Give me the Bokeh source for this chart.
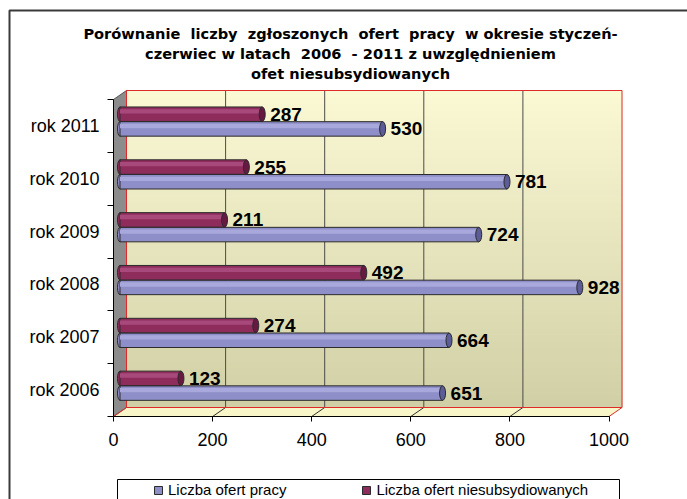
import numpy as np
from bokeh.plotting import figure
from bokeh.models import Range1d, LinearAxis, FixedTicker, Legend, LegendItem, ColumnDataSource
from bokeh.transform import dodge
from bokeh.core.properties import value
from bokeh.embed import file_html
from bokeh.resources import INLINE

# ---------------- data ----------------
categories = ["rok 2006", "rok 2007", "rok 2008", "rok 2009", "rok 2010", "rok 2011"]
liczba_ofert_pracy = [651, 664, 928, 724, 781, 530]
liczba_ofert_niesub = [123, 274, 492, 211, 255, 287]
x_ticks = [0, 200, 400, 600, 800, 1000]
series_labels = ["Liczba ofert pracy", "Liczba ofert niesubsydiowanych"]
title_lines = [
    "Porównanie  liczby  zgłoszonych  ofert  pracy  w okresie styczeń-",
    "czerwiec w latach  2006  - 2011 z uwzględnieniem",
    "ofet niesubsydiowanych",
]
# keep the double spaces visible in SVG (second space as no-break space)
title_render = [t.replace("  ", " \u00a0") for t in title_lines]

# ---------------- layout (canvas pixels) ----------------
W, H = 687, 499
X0, X1 = 113.0, 608.5      # canvas x of value 0 and of the last tick
YB, YT = 416.0, 99.0       # canvas y of the category axis bottom / top
ncat = len(categories)
xmax = x_ticks[-1]
sx = (X1 - X0) / xmax
sy = (YB - YT) / ncat
x_start = -X0 / sx
x_end = (W - X0) / sx
y_end = ncat + YT / sy
y_start = -(H - YB) / sy


def dx(px):
    return px / sx


def dy(px):
    return px / sy


def cx(px):
    return x_start + px / sx


def cy(py):
    return y_end - py / sy


DX, DY = dx(13), dy(9)     # 3-D depth offset of the back wall

p = figure(width=W, height=H, x_range=Range1d(x_start, x_end), y_range=Range1d(y_start, y_end),
           x_axis_type=None, y_axis_type=None, toolbar_location=None, output_backend="svg",
           min_border=0, min_border_left=0, min_border_right=0, min_border_top=0, min_border_bottom=0)
p.outline_line_color = None
p.background_fill_color = "white"
p.border_fill_color = "white"

# outer chart border (left and top visible)
p.line(x=[cx(9), cx(9), cx(W + 10)], y=[cy(H + 10), cy(10), cy(10)], line_color="#3a3a3a", line_width=2)

# title
p.text(x=[cx(350)] * 3, y=[cy(33), cy(53), cy(73)], text=title_render,
       text_font=value("DejaVu Sans"), text_font_style="bold", text_font_size="14.6px",
       text_align="center", text_baseline="middle", text_color="black")

# back wall with vertical gradient
nb = 48
edges = np.linspace(0, ncat, nb + 1)
top_c = np.array([251, 249, 212])
bot_c = np.array([209, 207, 165])
cols = []
for k in range(nb):
    t = (k + 0.5) / nb
    c = bot_c + (top_c - bot_c) * t
    cols.append("#%02x%02x%02x" % tuple(int(round(v)) for v in c))
p.quad(left=DX, right=xmax + DX, bottom=edges[:-1] + DY, top=edges[1:] + DY,
       fill_color=cols, line_color=cols, line_width=1)

# floor
p.patch(x=[0, DX, xmax + DX, xmax], y=[0, DY, DY, 0], fill_color="#f8f5c8", line_color=None)

inner = x_ticks[1:-1]
p.segment(x0=[t + DX for t in inner], y0=DY, x1=[t + DX for t in inner], y1=ncat + DY,
          line_color="#4a4a4a", line_width=1)
p.segment(x0=inner, y0=0, x1=[t + DX for t in inner], y1=DY, line_color="#303030", line_width=1)

# left wall
p.patch(x=[0, DX, DX, 0], y=[0, DY, ncat + DY, ncat], fill_color="#8c8c8c", line_color="#555555", line_width=1)

# red edges of the wall / floor
red = "#e02a2a"
p.line(x=[DX, DX, xmax + DX, xmax + DX, DX], y=[DY, ncat + DY, ncat + DY, DY, DY], line_color=red, line_width=1)
p.segment(x0=[0, xmax], y0=[0, 0], x1=[DX, xmax + DX], y1=[DY, DY], line_color=red, line_width=1)

# ---------------- bars ----------------
yc = np.arange(ncat) + 0.5
src = ColumnDataSource(dict(
    cat=categories, yc=yc, zero=[0] * ncat,
    pracy=liczba_ofert_pracy, niesub=liczba_ofert_niesub,
    pracy_txt=[str(v) for v in liczba_ofert_pracy],
    niesub_txt=[str(v) for v in liczba_ofert_niesub],
))
BX = dx(6.5)
BH_PX = 14.5
BH = dy(BH_PX)
outline = "#2b2b2b"


def cylinder(col, txtcol, yoff, body, hi, cap):
    ycol = dodge("yc", yoff)
    xl = dodge("zero", BX)
    xr = dodge(col, BX)
    p.ellipse(x=xl, y=ycol, width=5, height=BH_PX, width_units="screen", height_units="screen",
              source=src, fill_color=body, line_color=outline, line_width=1)
    r = p.hbar(y=ycol, left=xl, right=xr, height=BH, source=src,
               fill_color=body, line_color=outline, line_width=1)
    p.hbar(y=dodge("yc", yoff + BH * 0.2), left=xl, right=xr, height=BH * 0.3, source=src,
           fill_color=hi, line_color=None)
    p.ellipse(x=xr, y=ycol, width=6, height=BH_PX, width_units="screen", height_units="screen",
              source=src, fill_color=cap, line_color=outline, line_width=1)
    p.text(x=dodge(col, BX + dx(8)), y=ycol, text=txtcol, source=src,
           text_font=value("Liberation Sans"), text_font_style="bold", text_font_size="19px",
           text_align="left", text_baseline="middle", text_color="black")
    return r


r_blue = cylinder("pracy", "pracy_txt", -dy(3), "#8e8ec8", "#a8a8dc", "#5c5c98")
r_purple = cylinder("niesub", "niesub_txt", dy(11.7), "#8e2c5c", "#a8497c", "#661a42")

# ---------------- axes ----------------
xaxis = LinearAxis(fixed_location=0, bounds=(0, xmax),
                   ticker=FixedTicker(ticks=x_ticks, minor_ticks=[]))
xaxis.axis_line_color = "black"
xaxis.major_tick_out = 5
xaxis.major_tick_in = 0
xaxis.major_tick_line_color = "black"
xaxis.minor_tick_line_color = None
xaxis.major_label_text_font = "Liberation Sans"
xaxis.major_label_text_font_size = "18px"
xaxis.major_label_text_color = "black"
xaxis.major_label_standoff = 11
p.add_layout(xaxis, "below")

yaxis = LinearAxis(fixed_location=0, bounds=(0, ncat),
                   ticker=FixedTicker(ticks=list(yc), minor_ticks=list(range(ncat + 1))))
yaxis.major_label_overrides = {float(y): c for y, c in zip(yc, categories)}
yaxis.axis_line_color = "black"
yaxis.major_tick_line_color = None
yaxis.major_tick_out = 0
yaxis.major_tick_in = 0
yaxis.minor_tick_out = 6
yaxis.minor_tick_in = 0
yaxis.minor_tick_line_color = "black"
yaxis.major_label_text_font = "Liberation Sans"
yaxis.major_label_text_font_size = "18px"
yaxis.major_label_text_color = "black"
yaxis.major_label_standoff = 8
p.add_layout(yaxis, "left")

# ---------------- legend ----------------
p.quad(left=cx(117), right=cx(619), top=cy(479), bottom=cy(H + 20),
       fill_color="white", line_color="black", line_width=1)
legend = Legend(items=[LegendItem(label=series_labels[0], renderers=[r_blue]),
                       LegendItem(label=series_labels[1], renderers=[r_purple])],
                orientation="horizontal", location=(153, 1), glyph_width=10, glyph_height=10,
                label_standoff=5, spacing=75, padding=1, margin=0,
                border_line_color=None, background_fill_alpha=0,
                label_text_font="Liberation Sans", label_text_font_size="15px", label_text_color="black")
p.add_layout(legend, "center")

open("out.html", "w").write(file_html(p, INLINE))
